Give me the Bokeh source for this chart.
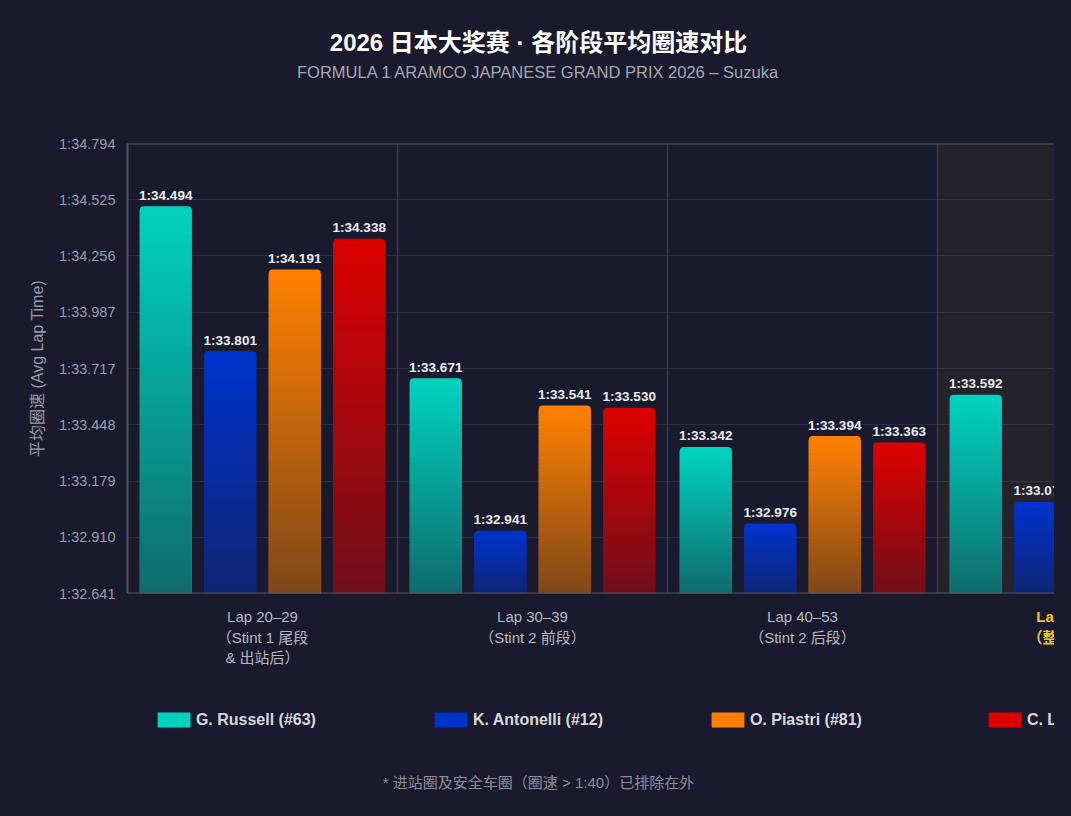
import numpy as np
from bokeh.plotting import figure
from bokeh.layouts import column
from bokeh.models import (Range1d, FixedTicker, CustomJSTickFormatter, Span, BoxAnnotation,
                          Legend, LegendItem)
from bokeh.core.properties import value
from bokeh.embed import file_html
from bokeh.resources import INLINE

# ---------------- data ----------------
title_text = "2026 日本大奖赛 · 各阶段平均圈速对比"
subtitle_text = "FORMULA 1 ARAMCO JAPANESE GRAND PRIX 2026 – Suzuka"
footnote_text = "* 进站圈及安全车圈（圈速 > 1:40）已排除在外"
y_axis_title = "平均圈速 (Avg Lap Time)"

group_lines = [
    ["Lap 20–29", "（Stint 1 尾段", "& 出站后）"],
    ["Lap 30–39", "（Stint 2 前段）"],
    ["Lap 40–53", "（Stint 2 后段）"],
    ["Lap 20–53", "（整体平均）"],
]
highlight_group = 3

drivers = ["G. Russell (#63)", "K. Antonelli (#12)", "O. Piastri (#81)", "C. Leclerc (#16)"]
driver_colors = ["#00d2be", "#0033cc", "#ff8000", "#dc0000"]

russell = [94.494, 93.671, 93.342, 93.592]
antonelli = [93.801, 92.941, 92.976, 93.079]
piastri = [94.191, 93.541, 93.394, 93.620]
leclerc = [94.338, 93.530, 93.363, 93.580]
series = [russell, antonelli, piastri, leclerc]

y_ticks = [92.641, 92.910, 93.179, 93.448, 93.717, 93.987, 94.256, 94.525, 94.794]
y_tick_labels = ["1:32.641", "1:32.910", "1:33.179", "1:33.448", "1:33.717",
                 "1:33.987", "1:34.256", "1:34.525", "1:34.794"]

# ---------------- style / layout ----------------
BG = "#1a1a2e"
FONT = "Liberation Sans, Noto Sans CJK SC"
W = 1054
HEAD_H = 130
BL, BT, BB, BR = 127, 13, 12, 0
FRAME_H = 450
MAIN_H = BT + FRAME_H + BB
FOOT_H = 210
FRAME_W = W - BL - BR
GROUP_PX = 270.0
Y0, Y1 = y_ticks[0], y_ticks[-1]
PPY = FRAME_H / (Y1 - Y0)
X_END = FRAME_W / GROUP_PX


def fmt_time(v):
    m = int(v // 60)
    return f"{m}:{v - 60 * m:06.3f}"


def blend(c, a):
    c = c.lstrip("#"); b = BG.lstrip("#")
    rgb = [int(c[i:i + 2], 16) for i in (0, 2, 4)]
    bg = [int(b[i:i + 2], 16) for i in (0, 2, 4)]
    out = [round(a * rgb[k] + (1 - a) * bg[k]) for k in range(3)]
    return "#%02x%02x%02x" % tuple(out)


def blank_fig(h, xr, yr):
    f = figure(width=W, height=h, output_backend="svg", toolbar_location=None,
               x_range=xr, y_range=yr, x_axis_location=None, y_axis_location=None,
               min_border_left=BL, min_border_right=BR, min_border_top=0,
               min_border_bottom=0, background_fill_color=BG, border_fill_color=BG,
               outline_line_color=None)
    f.grid.visible = False
    return f


# ---------------- header (x in page pixels) ----------------
head = blank_fig(HEAD_H, Range1d(BL, W), Range1d(HEAD_H, 0))
head.text(x=[538], y=[42], text=[title_text], text_align="center", text_baseline="middle",
          text_font=value(FONT), text_font_size="24px", text_font_style="bold",
          text_color="#ffffff")
head.text(x=[538], y=[71], text=[subtitle_text], text_align="center", text_baseline="middle",
          text_font=value(FONT), text_font_size="16.5px", text_color="#a8a8b0")

# ---------------- main chart ----------------
p = figure(width=W, height=MAIN_H, output_backend="svg", toolbar_location=None,
           x_range=Range1d(0, X_END), y_range=Range1d(Y0, Y1),
           x_axis_location=None, min_border_left=BL, min_border_top=BT,
           min_border_bottom=BB, min_border_right=BR,
           background_fill_color=BG, border_fill_color=BG, outline_line_color=None)

for g in p.xgrid:
    g.visible = False
p.ygrid.ticker = FixedTicker(ticks=y_ticks)
p.ygrid.grid_line_color = "#2d2d47"
p.ygrid.grid_line_width = 1
ax = p.yaxis[0]
ax.ticker = FixedTicker(ticks=y_ticks)
ax.formatter = CustomJSTickFormatter(args=dict(vals=y_ticks, labs=y_tick_labels), code="""
let best = 0;
for (let i = 0; i < vals.length; i++) {
  if (Math.abs(vals[i] - tick) < Math.abs(vals[best] - tick)) best = i;
}
return labs[best];
""")
ax.axis_line_color = "#55555f"
ax.axis_line_width = 2
ax.major_tick_line_color = None
ax.minor_tick_line_color = None
ax.major_label_standoff = 6
ax.major_label_text_color = "#9c9ca6"
ax.major_label_text_font = FONT
ax.major_label_text_font_size = "14.5px"
ax.axis_label = y_axis_title
ax.axis_label_text_color = "#9c9ca6"
ax.axis_label_text_font = FONT
ax.axis_label_text_font_size = "16px"
ax.axis_label_text_font_style = "normal"
ax.axis_label_standoff = 10

p.add_layout(BoxAnnotation(left=highlight_group, fill_color="#f5c400", fill_alpha=0.05,
                           line_alpha=0, level="underlay"))
for g in range(1, len(group_lines)):
    p.add_layout(Span(location=g, dimension="height", line_color="#3a3a52",
                      line_width=1.5, level="underlay"))

n_drv = len(drivers)
bar_w = 52 / GROUP_PX
pitch = 64.5 / GROUP_PX
A0 = 0.44
N = 48
sl_l, sl_r, sl_b, sl_t, sl_c = [], [], [], [], []
lab_x, lab_y, lab_t = [], [], []
for i, (vals, col) in enumerate(zip(series, driver_colors)):
    xs = [g + 0.5 + (i - (n_drv - 1) / 2) * pitch for g in range(len(vals))]
    p.vbar(x=xs, top=vals, bottom=Y0, width=bar_w, fill_color=col,
           line_color=None, border_radius=(4, 4, 0, 0))
    for x, v in zip(xs, vals):
        top_use = v - 4 / PPY
        edges = np.linspace(Y0, top_use, N + 1)
        for k in range(N):
            f = (k + 0.5) / N
            sl_l.append(x - bar_w / 2); sl_r.append(x + bar_w / 2)
            sl_b.append(edges[k]); sl_t.append(min(edges[k + 1] + 1 / PPY, top_use))
            sl_c.append(blend(col, A0 + (1 - A0) * f))
        lab_x.append(x); lab_y.append(v); lab_t.append(fmt_time(v))

p.quad(left=sl_l, right=sl_r, bottom=sl_b, top=sl_t, fill_color=sl_c, line_color=None)

p.text(x=lab_x, y=lab_y, text=lab_t, y_offset=-11, text_align="center",
       text_baseline="alphabetic", text_color="#ececec",
       text_font=value("Liberation Sans"), text_font_size="13.5px", text_font_style="bold")

p.add_layout(Span(location=Y1, dimension="width", line_color="#55555f", line_width=2))
p.add_layout(Span(location=Y0, dimension="width", line_color="#55555f", line_width=2))

# ---------------- footer: category labels, legend, footnote ----------------
foot = blank_fig(FOOT_H, Range1d(0, X_END), Range1d(FOOT_H, 0))
line_px = [11, 31.5, 52]
norm = dict(x=[], y=[], t=[])
hil = dict(x=[], y=[], t=[])
for g, lines in enumerate(group_lines):
    d = hil if g == highlight_group else norm
    for j, t in enumerate(lines):
        d["x"].append(g); d["y"].append(line_px[j]); d["t"].append(t)
foot.text(x=norm["x"], y=norm["y"], text=norm["t"], x_offset=GROUP_PX / 2,
          text_align="center", text_baseline="middle", text_font=value(FONT),
          text_font_size="15px", text_color="#b8b8c0")
foot.text(x=hil["x"], y=hil["y"], text=hil["t"], x_offset=GROUP_PX / 2,
          text_align="center", text_baseline="middle", text_font=value(FONT),
          text_font_size="15px", text_font_style="bold", text_color="#f5c518")

foot.text(x=[(538 - BL) / GROUP_PX], y=[177], text=[footnote_text], text_align="center",
          text_baseline="middle", text_font=value(FONT), text_font_size="15px",
          text_color="#8c8c99")

# legend (Bokeh insets area glyphs by 10% per side, so the glyph box is enlarged)
GW, GH = 33 / 0.8, 15 / 0.8
leg_r = [foot.vbar(x=[-1.0], top=[0.0], bottom=[0.0], width=0.1, fill_color=c, line_color=None)
         for c in driver_colors]
legend = Legend(items=[LegendItem(label=d, renderers=[r], index=0) for d, r in zip(drivers, leg_r)],
                location=(157 - 0.1 * GW - BL, FOOT_H - 115 - GH / 2), orientation="horizontal",
                glyph_width=round(GW), glyph_height=round(GH), label_standoff=2,
                label_width=234, label_height=15, spacing=0, padding=0, margin=0,
                border_line_color=None, background_fill_alpha=0,
                label_text_color="#d8d8d8", label_text_font=FONT,
                label_text_font_size="16px", label_text_font_style="bold")
foot.add_layout(legend, "center")

layout = column(head, p, foot, spacing=0)
html = file_html(layout, INLINE, title="2026 日本大奖赛")
html = html.replace("</head>", "<style>html,body{background:%s;}</style></head>" % BG, 1)
open("out.html", "w").write(html)
